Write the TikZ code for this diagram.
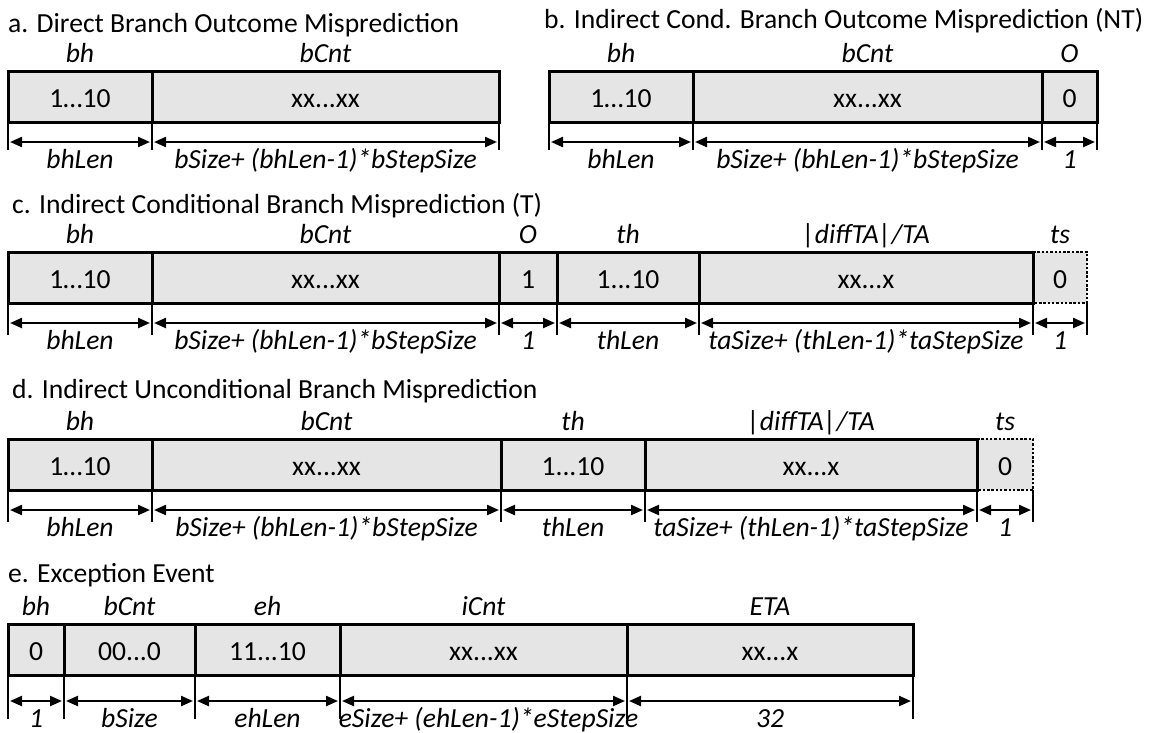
\documentclass[tikz,border=0pt]{standalone}
\usepackage{fontspec}
\setmainfont{Carlito}
\usetikzlibrary{positioning,arrows.meta}
\newcommand{\figfont}{\fontsize{27.6}{33}\selectfont}
\tikzset{
  rowtitle/.style={font=\figfont, anchor=base west, inner sep=0pt},
  field/.style={draw, line width=3pt, fill=gray!20, font=\figfont, minimum height=51pt, inner sep=0pt, outer sep=0pt, text height=21pt, text depth=0pt},
  tsfield/.style={field, draw=none},
  fieldname/.style={font=\figfont\itshape, anchor=base, yshift=9pt},
  fieldlen/.style={font=\figfont\itshape, anchor=base, yshift=-46pt},
  sizetick/.style={line width=2.5pt},
  dim/.style={<->, >={Triangle[length=12pt,width=10pt]}, line width=2.2pt, shorten <=2pt, shorten >=2pt},
  dotbox/.style={line width=2.5pt, dash pattern=on 2.5pt off 1.8pt}
}
\begin{document}
\begin{tikzpicture}[x=1pt, y=-1pt]
\useasboundingbox (0,0) rectangle (1155,732);

% a. direct branch
\node[rowtitle] (ta) at (8,32) {a. Direct Branch Outcome Misprediction};
\node[field, minimum width=144pt, anchor=north west, label={[fieldname]above:bh}, label={[fieldlen]below:bhLen}] (a1) at (8,71) {1…10};
\node[field, minimum width=347pt, right=0pt of a1, label={[fieldname]above:bCnt}, label={[fieldlen]below:bSize+ (bhLen-1)*bStepSize}] (a2) {xx...xx};
\draw[sizetick] (a1.south west) -- ++(0,28) (a2.south west) -- ++(0,28) (a2.south east) -- ++(0,28);
\draw[dim] ([yshift=-20pt]a1.south west) -- ([yshift=-20pt]a1.south east);
\draw[dim] ([yshift=-20pt]a2.south west) -- ([yshift=-20pt]a2.south east);

% b. indirect cond., not taken
\node[rowtitle] (tb) at (544,28) {b. Indirect Cond. Branch Outcome Misprediction (NT)};
\node[field, minimum width=144pt, anchor=north west, label={[fieldname]above:bh}, label={[fieldlen]below:bhLen}] (b1) at (549,71) {1…10};
\node[field, minimum width=349pt, right=0pt of b1, label={[fieldname]above:bCnt}, label={[fieldlen]below:bSize+ (bhLen-1)*bStepSize}] (b2) {xx...xx};
\node[field, minimum width=55pt, right=0pt of b2, label={[fieldname]above:O}, label={[fieldlen]below:1}] (b3) {0};
\draw[sizetick] (b1.south west) -- ++(0,28) (b2.south west) -- ++(0,28) (b3.south west) -- ++(0,28) (b3.south east) -- ++(0,28);
\draw[dim] ([yshift=-20pt]b1.south west) -- ([yshift=-20pt]b1.south east);
\draw[dim] ([yshift=-20pt]b2.south west) -- ([yshift=-20pt]b2.south east);
\draw[dim] ([yshift=-20pt]b3.south west) -- ([yshift=-20pt]b3.south east);

% c. indirect cond., taken
\node[rowtitle] (tc) at (12,213) {c. Indirect Conditional Branch Misprediction (T)};
\node[field, minimum width=144pt, anchor=north west, label={[fieldname]above:bh}, label={[fieldlen]below:bhLen}] (c1) at (8,252) {1…10};
\node[field, minimum width=347pt, right=0pt of c1, label={[fieldname]above:bCnt}, label={[fieldlen]below:bSize+ (bhLen-1)*bStepSize}] (c2) {xx...xx};
\node[field, minimum width=58pt, right=0pt of c2, label={[fieldname]above:O}, label={[fieldlen]below:1}] (c3) {1};
\node[field, minimum width=142pt, right=0pt of c3, label={[fieldname]above:th}, label={[fieldlen]below:thLen}] (c4) {1...10};
\node[field, minimum width=334pt, right=0pt of c4, label={[fieldname]above:|diffTA|/TA}, label={[fieldlen]below:taSize+ (thLen-1)*taStepSize}] (c5) {xx...x};
\node[tsfield, minimum width=54pt, right=0pt of c5, label={[fieldname]above:ts}, label={[fieldlen]below:1}] (c6) {0};
\draw[dotbox] (c6.north west) -- (c6.north east) -- (c6.south east) -- (c6.south west);
\draw[line width=3pt] (c6.north west) -- (c6.south west);
\draw[sizetick] (c1.south west) -- ++(0,32) (c2.south west) -- ++(0,32) (c3.south west) -- ++(0,32) (c4.south west) -- ++(0,32)
  (c5.south west) -- ++(0,32) (c6.south west) -- ++(0,32) (c6.south east) -- ++(0,32);
\draw[dim] ([yshift=-20pt]c1.south west) -- ([yshift=-20pt]c1.south east);
\draw[dim] ([yshift=-20pt]c2.south west) -- ([yshift=-20pt]c2.south east);
\draw[dim] ([yshift=-20pt]c3.south west) -- ([yshift=-20pt]c3.south east);
\draw[dim] ([yshift=-20pt]c4.south west) -- ([yshift=-20pt]c4.south east);
\draw[dim] ([yshift=-20pt]c5.south west) -- ([yshift=-20pt]c5.south east);
\draw[dim] ([yshift=-20pt]c6.south west) -- ([yshift=-20pt]c6.south east);

% d. indirect unconditional
\node[rowtitle] (td) at (12,398) {d. Indirect Unconditional Branch Misprediction};
\node[field, minimum width=144pt, anchor=north west, label={[fieldname]above:bh}, label={[fieldlen]below:bhLen}] (d1) at (8,439) {1…10};
\node[field, minimum width=349pt, right=0pt of d1, label={[fieldname]above:bCnt}, label={[fieldlen]below:bSize+ (bhLen-1)*bStepSize}] (d2) {xx...xx};
\node[field, minimum width=144pt, right=0pt of d2, label={[fieldname]above:th}, label={[fieldlen]below:thLen}] (d3) {1...10};
\node[field, minimum width=332pt, right=0pt of d3, label={[fieldname]above:|diffTA|/TA}, label={[fieldlen]below:taSize+ (thLen-1)*taStepSize}] (d4) {xx...x};
\node[tsfield, minimum width=56pt, right=0pt of d4, label={[fieldname]above:ts}, label={[fieldlen]below:1}] (d5) {0};
\draw[dotbox] (d5.north west) -- (d5.north east) -- (d5.south east) -- (d5.south west);
\draw[line width=3pt] (d5.north west) -- (d5.south west);
\draw[sizetick] (d1.south west) -- ++(0,32) (d2.south west) -- ++(0,32) (d3.south west) -- ++(0,32) (d4.south west) -- ++(0,32)
  (d5.south west) -- ++(0,32) (d5.south east) -- ++(0,32);
\draw[dim] ([yshift=-20pt]d1.south west) -- ([yshift=-20pt]d1.south east);
\draw[dim] ([yshift=-20pt]d2.south west) -- ([yshift=-20pt]d2.south east);
\draw[dim] ([yshift=-20pt]d3.south west) -- ([yshift=-20pt]d3.south east);
\draw[dim] ([yshift=-20pt]d4.south west) -- ([yshift=-20pt]d4.south east);
\draw[dim] ([yshift=-20pt]d5.south west) -- ([yshift=-20pt]d5.south east);

% e. exception
\node[rowtitle] (te) at (8,582) {e. Exception Event};
\node[field, minimum width=56pt, anchor=north west, label={[fieldname]above:bh}, label={[fieldlen, yshift=-6pt]below:1}] (e1) at (8,624) {0};
\node[field, minimum width=131pt, right=0pt of e1, label={[fieldname]above:bCnt}, label={[fieldlen, yshift=-6pt]below:bSize}] (e2) {00...0};
\node[field, minimum width=145pt, right=0pt of e2, label={[fieldname]above:eh}, label={[fieldlen, yshift=-6pt]below:ehLen}] (e3) {11...10};
\node[field, minimum width=287pt, right=0pt of e3, label={[fieldname]above:iCnt}, label={[fieldlen, yshift=-6pt, xshift=5pt]below:eSize+ (ehLen-1)*eStepSize}] (e4) {xx...xx};
\node[field, minimum width=286pt, right=0pt of e4, label={[fieldname]above:ETA}, label={[fieldlen, yshift=-6pt]below:32}] (e5) {xx...x};
\draw[sizetick] (e1.south west) -- ++(0,44) (e2.south west) -- ++(0,44) (e3.south west) -- ++(0,44) (e4.south west) -- ++(0,44)
  (e5.south west) -- ++(0,44) (e5.south east) -- ++(0,44);
\draw[dim] ([yshift=-26pt]e1.south west) -- ([yshift=-26pt]e1.south east);
\draw[dim] ([yshift=-26pt]e2.south west) -- ([yshift=-26pt]e2.south east);
\draw[dim] ([yshift=-26pt]e3.south west) -- ([yshift=-26pt]e3.south east);
\draw[dim] ([yshift=-26pt]e4.south west) -- ([yshift=-26pt]e4.south east);
\draw[dim] ([yshift=-26pt]e5.south west) -- ([yshift=-26pt]e5.south east);
\end{tikzpicture}
\end{document}
